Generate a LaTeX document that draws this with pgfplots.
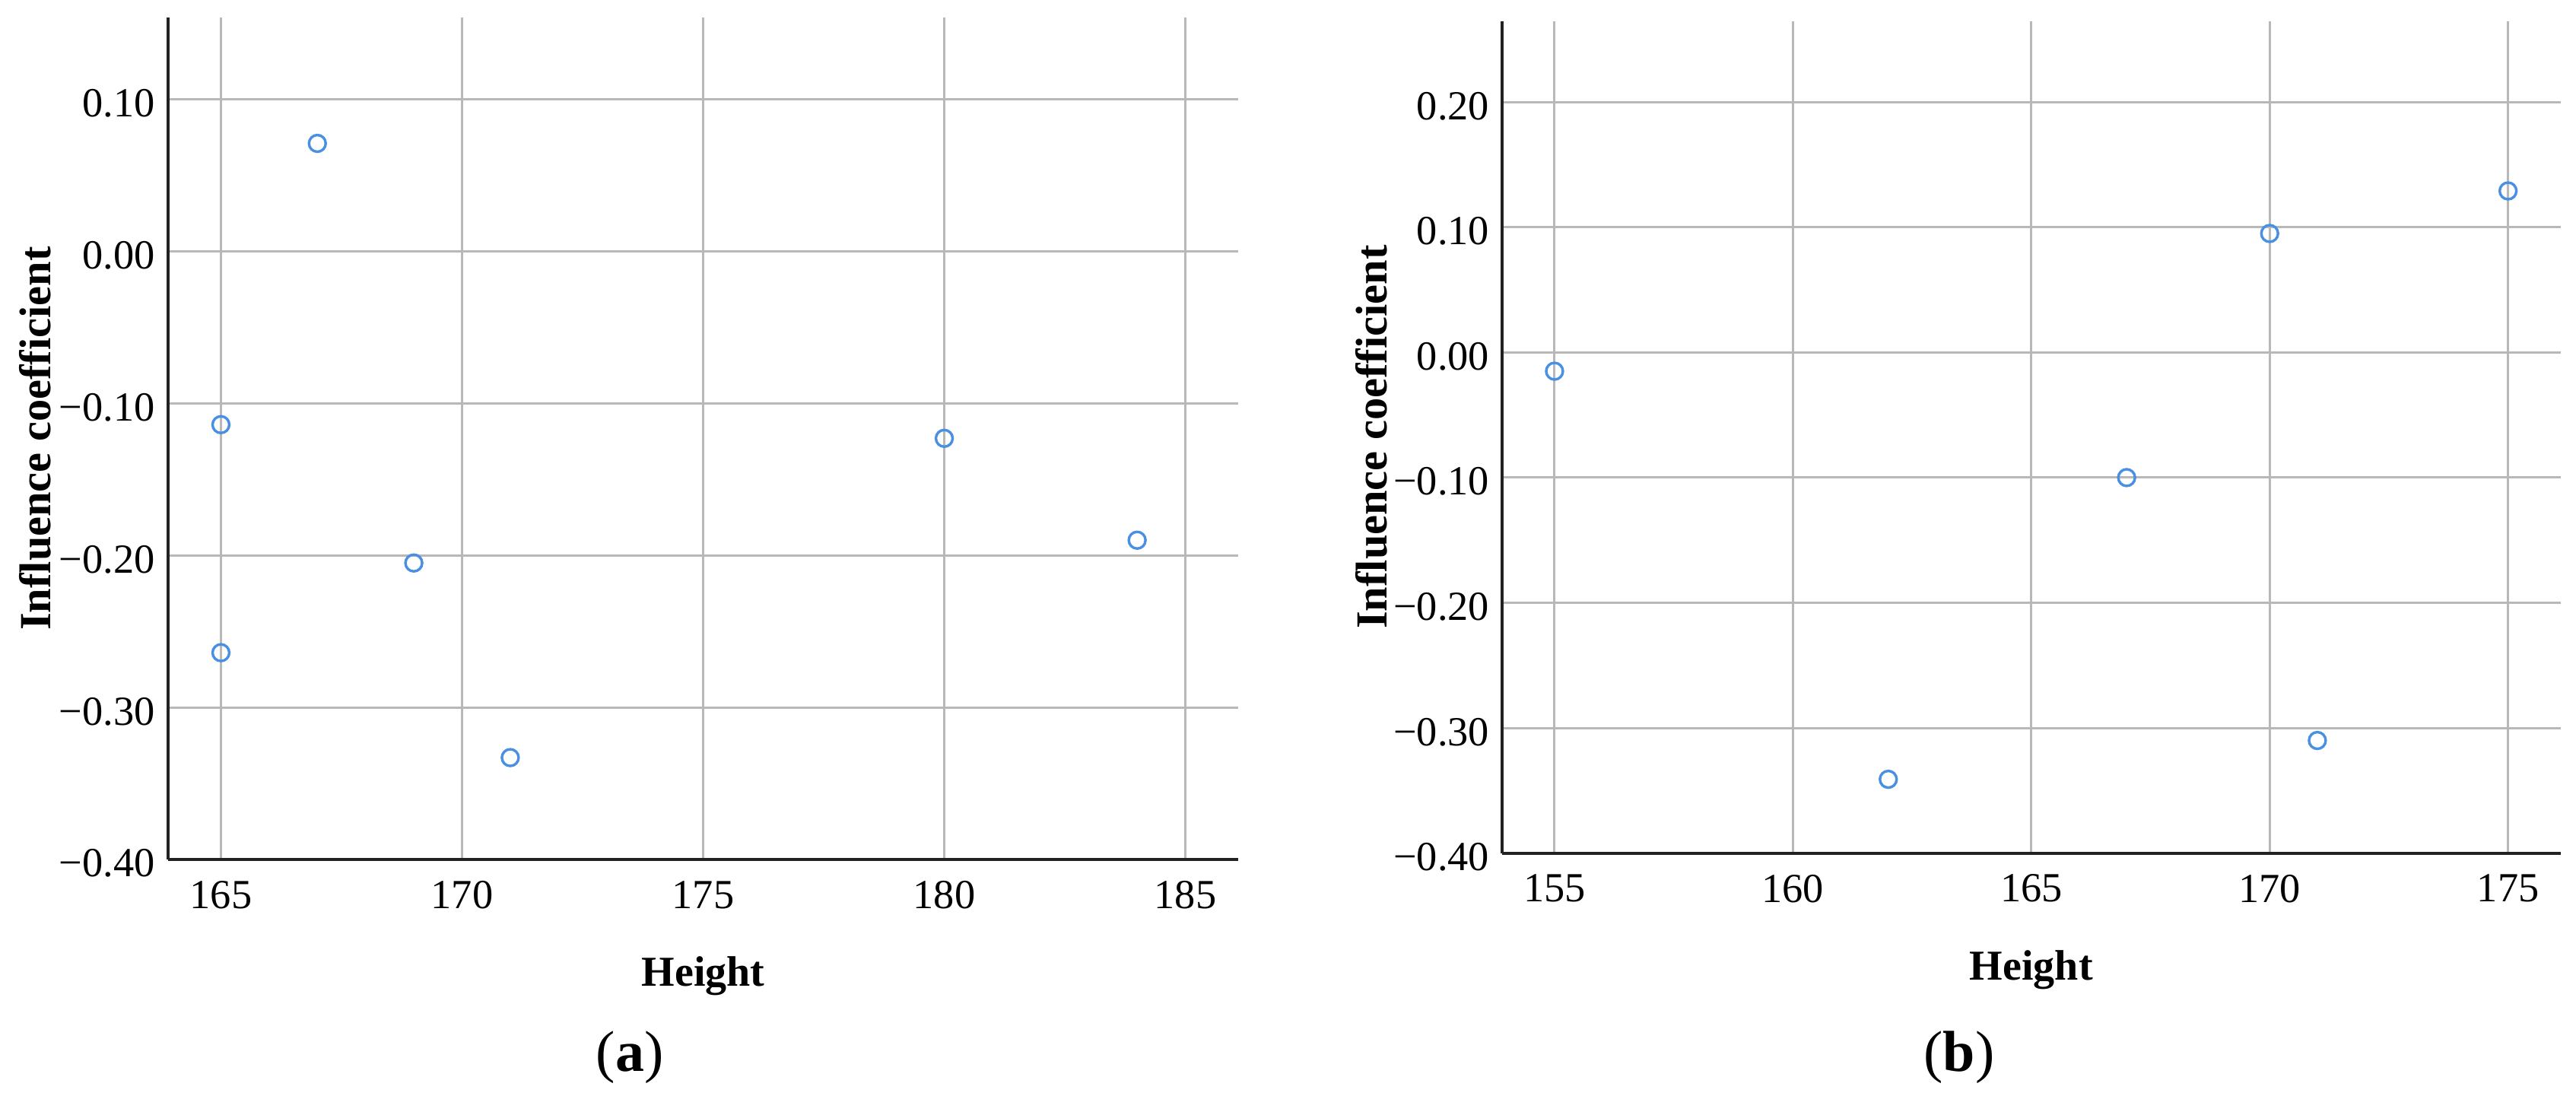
\documentclass[border=0pt]{standalone}
\usepackage{fontspec}
\setmainfont{Liberation Serif}
\usepackage{pgfplots}
\pgfplotsset{compat=1.18}
\definecolor{gridgray}{RGB}{184,184,184}
\definecolor{ptblue}{RGB}{74,144,226}
\definecolor{axblack}{RGB}{34,34,34}
\pgfplotsset{
  infl/.style={
    scale only axis,
    anchor=south west,
    axis lines=left,
    axis line style={-, line width=1pt, draw=axblack},
    grid=major,
    major grid style={line width=0.75pt, draw=gridgray},
    major tick length=0pt,
    tick style={draw=none},
    /pgf/number format/assume math mode=true,
    ticklabel style={font=\fontsize{13.6}{16}\selectfont, text=black},
    xticklabel style={yshift=-3.5pt},
    yticklabel style={xshift=-0.7pt, yshift=-1.3pt},
    xlabel style={font=\fontsize{14}{17}\selectfont\bfseries},
    ylabel style={font=\fontsize{14.6}{17}\selectfont\bfseries},
    xlabel={Height},
    ylabel={Influence coefficient},
    clip=false,
  },
  pts/.style={only marks, mark=o, mark size=2.75pt, draw=ptblue,
    mark options={line width=0.85pt, draw=ptblue}},
}
\begin{document}
\begin{tikzpicture}
\useasboundingbox (0pt,0pt) rectangle (846.75pt,360pt);
% (a)
\begin{axis}[infl,
  at={(55.18pt,77.5pt)}, width=351.9pt, height=276.7pt,
  xmin=163.9, xmax=186.1, ymin=-0.40, ymax=0.1537,
  xtick={165,170,175,180,185},
  ytick={-0.4,-0.3,-0.2,-0.1,0,0.1},
  yticklabels={−0.40,−0.30,−0.20,−0.10,0.00,0.10},
  ylabel style={at={(axis description cs:-0.1241,0.5)}, anchor=center},
  xlabel style={at={(axis description cs:0.5,-0.1382)}, anchor=center},
]
\addplot[pts] coordinates {
  (165,-0.114) (165,-0.264) (167,0.071) (169,-0.205)
  (171,-0.333) (180,-0.123) (184,-0.190)
};
\end{axis}
% (b)
\begin{axis}[infl,
  at={(493.75pt,79.58pt)}, width=347.9pt, height=273.5pt,
  xmin=153.9, xmax=176.1, ymin=-0.40, ymax=0.2647,
  xtick={155,160,165,170,175},
  ytick={-0.4,-0.3,-0.2,-0.1,0,0.1,0.2},
  yticklabels={−0.40,−0.30,−0.20,−0.10,0.00,0.10,0.20},
  ylabel style={at={(axis description cs:-0.1236,0.5)}, anchor=center},
  xlabel style={at={(axis description cs:0.5,-0.140)}, anchor=center},
]
\addplot[pts] coordinates {
  (155,-0.015) (162,-0.341) (167,-0.100) (170,0.095)
  (171,-0.310) (175,0.129)
};
\end{axis}
\node[anchor=base, font=\fontsize{19}{22}\selectfont] at (207pt,8pt) {(\textbf{a})};
\node[anchor=base, font=\fontsize{19}{22}\selectfont] at (644pt,8pt) {(\textbf{b})};
\end{tikzpicture}
\end{document}
